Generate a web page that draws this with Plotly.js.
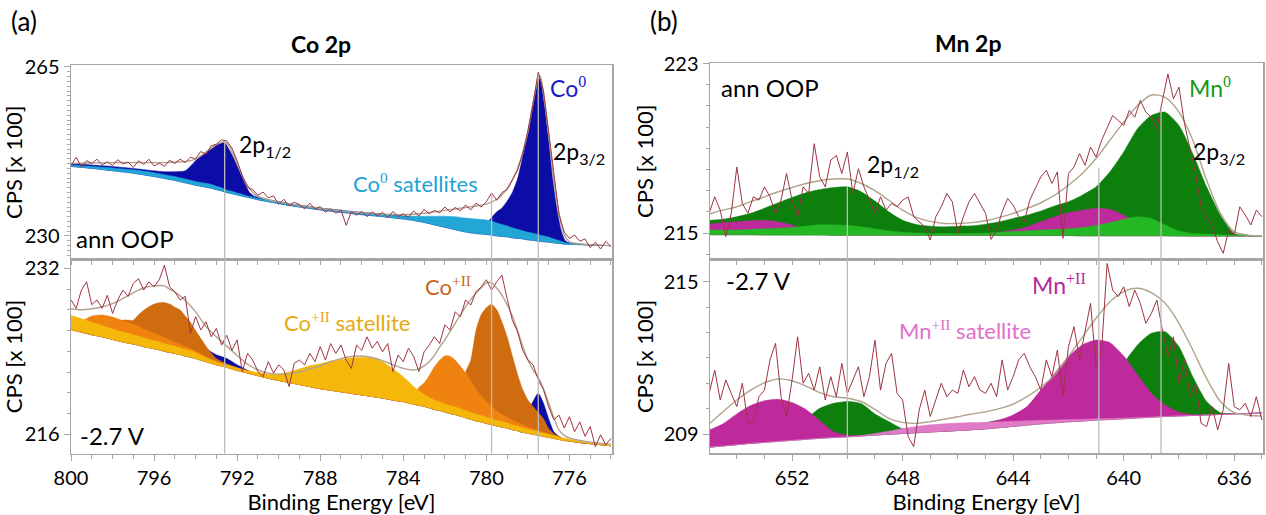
<!DOCTYPE html>
<html><head><meta charset="utf-8">
<script src="https://cdn.plot.ly/plotly-3.0.1.min.js"></script>
<style>body{margin:0;background:#fff}#chart{width:1266px;height:515px}</style>
</head><body><div id="chart"></div>
<script>
// ---------------- Co 2p, ann OOP (top-left) ----------------
const coTopE = [800,799,798,797,796,795.5,795,794.5,794,793.75,793.5,793.25,793,792.8,792.6,792.4,792.2,792,791.8,791.6,791.4,791.2,791,790.5,790,789,788,787,786,785,784,783.5,783,782.5,782,781.5,781,780.5,780,779.75,779.5,779.25,779,778.75,778.5,778.25,778,777.8,777.6,777.5,777.4,777.2,777,776.8,776.6,776.4,776.2,776,775.5,775,774.5,774];
const coTopBg = [244.4,244.0,243.5,243.0,242.3,241.9,241.5,241.0,240.5,240.3,240.1,239.9,239.6,239.4,239.1,238.9,238.7,238.5,238.3,238.1,237.9,237.7,237.5,237.1,236.7,236.0,235.4,234.9,234.4,234.0,233.5,233.2,232.8,232.3,231.8,231.3,230.8,230.5,230.3,230.2,230.0,229.9,229.8,229.6,229.5,229.4,229.2,229.1,229.0,228.9,228.85,228.8,228.7,228.6,228.5,228.4,228.3,228.3,228.2,228.1,228.05,228.0];
const coTopCo0 = [0.6,0.7,0.9,1.0,1.2,1.4,1.8,2.5,5.1,6.3,7.2,8.1,9.2,9.8,10.2,9.1,7.7,6.0,4.3,2.5,1.1,0.6,0.5,0.45,0.4,0.4,0.4,0.45,0.5,0.55,0.65,0.7,0.8,0.9,1.0,1.2,1.4,1.8,2.4,3.6,5.0,5.9,7.4,9.4,12.3,17.0,22.2,27.4,32.0,33.8,33.45,28.2,21.1,13.0,7.0,2.8,0.7,0.3,0.1,0.05,0,0];
const coTopSat = [0.3,0.4,0.6,0.7,0.8,0.8,0.8,0.8,0.8,0.8,0.8,0.8,0.7,0.7,0.6,0.5,0.5,0.4,0.4,0.3,0.3,0.3,0.3,0.3,0.3,0.3,0.3,0.3,0.3,0.4,0.6,0.9,1.3,1.8,2.3,2.7,2.9,3.0,3.0,2.9,2.7,2.5,2.3,2.1,1.9,1.7,1.6,1.5,1.4,1.4,1.3,1.2,1.1,0.9,0.7,0.5,0.3,0.2,0.1,0.1,0,0];
const coTopEnv = [245.0,245.1,245.2,245.2,245.2,245.2,245.3,245.4,245.9,246.6,247.4,248.2,248.9,249.3,249.5,248.7,247.0,245.0,243.0,241.2,239.8,238.8,238.2,237.5,237.0,236.3,235.7,235.2,234.8,234.5,234.4,234.5,234.7,235.0,235.3,235.6,235.9,236.2,236.6,237.0,237.6,238.5,239.8,241.6,244.0,247.3,251.5,256.3,261.0,263.2,263.0,258.0,251.0,243.5,237.0,232.5,229.8,228.8,228.4,228.2,228.1,228.0];
const coTopRaw = [244.6,246.3,244.3,245.6,245.0,245.9,244.7,245.4,244.6,245.8,
244.9,245.3,244.2,245.6,244.8,245.9,244.5,245.1,244.4,245.7,
245.0,245.9,245.2,246.3,246.0,247.5,246.9,248.7,249.0,249.9,
249.7,248.2,245.6,242.4,240.1,239.6,238.4,239.1,237.9,238.3,
236.6,
237.6,236.2,237.0,236.5,235.6,236.8,235.5,236.1,234.9,235.6,
234.7,235.4,232.2,235.0,234.3,235.1,234.0,235.0,234.2,234.9,
233.8,235.1,234.0,234.6,233.9,235.2,234.1,235.5,234.6,235.3,
234.8,236.0,235.0,235.9,235.2,236.4,235.4,236.8,236.0,237.1,
238.9,237.4,239.0,239.6,241.5,243.6,247.0,251.8,257.4,263.9,
260.0,251.5,242.0,234.5,230.8,229.5,230.2,228.9,229.4,227.6,
228.7,227.3,228.9,227.8];

// ---------------- Co 2p, -2.7 V (bottom-left) ----------------
const coBotE = [800,799.5,799,798.5,798,797.5,797,796.75,796.5,796.25,796,795.75,795.5,795.25,795,794.75,794.5,794.25,794,793.5,793,792.5,792,791.5,791,790.5,790,789.5,789,788.5,788,787.5,787,786.5,786,785.5,785,784.5,784,783.5,783.25,783,782.75,782.5,782.25,782,781.75,781.5,781.25,781,780.75,780.5,780.25,780,779.75,779.5,779.25,779,778.75,778.5,778.25,778,777.75,777.5,777.25,777,776.75,776.5,776.25,776,775.5,775,774.5,774];
const coBotBg = [226.1,225.85,225.6,225.4,225.15,224.9,224.7,224.6,224.45,224.35,224.25,224.15,224.0,223.9,223.8,223.7,223.55,223.45,223.3,223.0,222.7,222.45,222.15,221.9,221.65,221.4,221.2,221.0,220.8,220.6,220.4,220.25,220.1,219.95,219.8,219.65,219.5,219.3,219.15,218.9,218.8,218.7,218.55,218.4,218.3,218.15,218.0,217.9,217.75,217.6,217.45,217.3,217.2,217.05,216.95,216.8,216.7,216.6,216.45,216.35,216.2,216.1,216.0,215.9,215.8,215.7,215.6,215.5,215.4,215.35,215.2,215.1,215.0,214.9];
const coBotCo0 = [0,0,0,0,0,0,0,0,0,0,0,0,0,0,0,0,0,0,0.8,1.2,0.96,0.85,0.55,0.27,0.1,0,0,0,0,0,0,0,0,0,0,0,0,0,0,0,0,0,0,0,0,0,0,0,0,0,0,0,0,0,0,0,0,0,0,0,0,2.0,3.18,4.05,3.2,1.8,0.64,0.3,0.1,0,0,0,0,0];
const coBotCoII = [0,0,0,0.3,1.0,2.1,2.3,2.92,3.5,3.95,4.3,4.53,4.7,4.65,4.45,4.3,3.85,3.35,2.7,1.5,0.61,0.35,0.28,0.15,0.05,0,0,0,0,0,0,0,0,0,0,0,0,0,0,0,0,0,0,0,0,0.4,0.6,1.0,2.0,4.4,5.68,8.7,10.32,11.15,11.58,11.2,10.13,8.8,7.13,5.45,4.11,3.2,2.68,2.2,1.7,0.85,0.44,0.3,0.15,0.05,0,0,0,0];
const coBotCoIIb = [0,1.0,1.8,2.1,2.15,2.05,1.9,1.82,1.73,1.62,1.52,1.41,1.31,1.2,1.1,1.0,0.91,0.81,0.73,0.48,0.31,0.2,0.1,0,0,0,0,0,0,0,0,0,0,0,0,0,0,0,0,0.8,1.7,2.25,3.1,4.1,4.85,5.4,5.53,5.25,4.82,4.3,3.68,3.05,2.52,2.1,1.78,1.45,1.23,1.05,0.93,0.8,0.71,0.6,0.53,0.45,0.4,0.35,0.29,0.2,0,0,0,0,0,0];
const coBotSat = [1.35,1.3,1.2,1.1,1.0,0.95,0.9,0.87,0.85,0.82,0.8,0.77,0.75,0.72,0.7,0.67,0.64,0.6,0.57,0.4,0.28,0.25,0.25,0.25,0.3,0.4,0.6,1.0,1.5,2.0,2.4,2.8,3.1,3.4,3.6,3.7,3.5,3.0,2.4,1.7,1.4,1.15,1.0,0.9,0.85,0.8,0.78,0.75,0.72,0.7,0.68,0.65,0.62,0.6,0.58,0.55,0.53,0.5,0.48,0.45,0.43,0.4,0.38,0.35,0.33,0.3,0.27,0.25,0.22,0.2,0.15,0.1,0.05,0];
const coBotEnv = [228.1,228.0,228.1,228.3,228.6,229.1,229.65,229.9,230.1,230.25,230.3,230.35,230.3,230.0,229.7,229.35,228.9,228.4,227.8,226.4,225.4,224.5,223.6,222.75,222.2,221.9,221.8,221.85,222.0,222.3,222.6,223.0,223.3,223.5,223.55,223.4,223.1,222.7,222.35,222.2,222.3,222.6,223.0,223.6,224.4,225.1,225.9,226.7,227.5,228.3,229.0,229.6,230.1,230.6,230.6,230.1,229.4,228.5,227.4,226.0,224.5,223.2,222.2,221.5,220.4,219.0,217.6,216.4,215.9,215.65,215.4,215.25,215.15,215.05];
const coBotRaw = [228.95,228.15,229.9,230.7,228.5,228.95,228.15,229.4,227.65,228.95,
229.9,229.3,230.55,231.0,229.9,230.7,230.2,230.9,232.3,230.2,
229.75,228.95,229.3,225.75,227.35,226.05,226.85,225.4,226.2,224.6,
225.55,224.1,225.1,222.05,223.8,223.15,222.05,221.55,223.0,221.9,
222.7,
222.2,220.6,222.85,223.15,222.7,223.8,223.0,224.45,223.15,224.75,
223.8,224.6,223.15,222.35,224.6,224.1,225.4,224.3,224.95,223.95,
224.75,222.05,223.65,223.0,224.3,223.5,222.05,223.95,224.6,225.4,
224.75,226.55,226.05,227.8,227.35,228.95,228.45,229.75,230.2,230.9,
229.9,230.7,231.35,229.1,227.0,225.9,224.1,223.15,222.7,221.25,
220.3,218.65,217.4,217.85,216.6,217.7,216.25,217.2,215.8,216.75,
214.8,215.95,215.0,215.6];

// ---------------- Mn 2p, ann OOP (top-right) ----------------
const mnE = [655,654.5,654,653.5,653,652.5,652,651.5,651,650.5,650,649.5,649,648.5,648,647.5,647,646.5,646,645.5,645,644.5,644,643.5,643,642.5,642,641.5,641,640.5,640,639.5,639,638.5,638,637.5,637,636.5,636,635.5,635];
const mnTopBg = [214.92,214.92,214.92,214.92,214.91,214.91,214.91,214.91,214.91,214.9,214.9,214.9,214.9,214.9,214.9,214.89,214.89,214.89,214.89,214.89,214.89,214.88,214.88,214.88,214.88,214.88,214.88,214.87,214.87,214.87,214.87,214.87,214.87,214.87,214.86,214.86,214.86,214.86,214.86,214.86,214.86];
const mnTopMn0 = [0.68,0.73,0.85,1.01,1.26,1.52,1.77,1.99,2.14,2.25,2.28,2.05,1.61,1.1,0.7,0.51,0.43,0.4,0.43,0.45,0.53,0.65,0.81,0.96,1.16,1.4,1.6,1.92,2.31,3.02,3.96,5.06,5.68,5.84,5.22,3.89,2.32,0.98,0.12,0.02,0];
const mnTopMnII = [0.5,0.57,0.61,0.66,0.69,0.62,0.46,0.25,0.1,0.03,0,0,0,0,0,0,0,0,0,0,0.05,0.15,0.26,0.41,0.65,0.89,1.08,1.21,1.29,1.25,0.97,0.6,0.3,0.12,0.04,0,0,0,0,0,0];
const mnTopSat = [0.22,0.22,0.22,0.25,0.29,0.32,0.35,0.42,0.48,0.49,0.46,0.4,0.3,0.2,0.14,0.11,0.09,0.09,0.09,0.09,0.11,0.15,0.19,0.22,0.26,0.29,0.32,0.39,0.49,0.62,0.78,0.9,0.82,0.51,0.24,0.12,0.09,0.06,0.03,0.01,0];
const mnTopEnv = [215.9,216.08,216.24,216.48,216.71,216.95,217.15,217.34,217.47,217.55,217.55,217.34,217.0,216.55,216.08,215.74,215.55,215.45,215.45,215.49,215.58,215.74,215.93,216.16,216.43,216.79,217.26,217.81,218.52,219.38,220.24,221.02,221.52,221.41,220.71,219.38,217.5,215.93,215.07,214.9,214.87];
const mnTopRaw = [215.93,216.71,216.08,214.83,215.93,218.12,216.4,215.93,216.71,216.55,
217.18,216.71,215.93,216.55,217.81,216.55,215.77,217.18,216.87,219.22,
217.65,217.18,218.44,218.67,217.81,218.83,216.87,218.04,217.18,216.55,
215.93,216.71,216.08,216.4,216.24,216.55,216.71,215.77,215.53,215.3,
214.67,215.77,216.24,216.87,216.47,214.98,215.77,216.47,216.87,216.4,
215.93,214.7,215.14,216.0,216.63,216.32,215.77,215.53,216.55,217.1,
217.65,217.96,217.34,217.89,214.75,217.81,218.12,218.75,218.2,219.06,
218.59,219.38,220.0,220.55,220.32,220.08,220.79,220.47,221.26,220.71,
220.47,219.93,221.26,222.51,221.34,221.89,220.16,219.06,217.81,216.24,
215.77,215.3,214.59,214.04,215.14,214.9,216.24,215.85,215.38,216.08,
215.77];

// ---------------- Mn 2p, -2.7 V (bottom-right) ----------------
const mnBotBg = [208.48,208.53,208.58,208.63,208.67,208.71,208.75,208.79,208.83,208.86,208.89,208.92,208.96,208.99,209.02,209.05,209.08,209.11,209.14,209.17,209.2,209.25,209.3,209.35,209.4,209.44,209.48,209.51,209.55,209.57,209.6,209.63,209.66,209.69,209.71,209.73,209.75,209.77,209.79,209.81,209.83];
const mnBotMn0 = [0,0,0,0.02,0.08,0.2,0.45,0.8,1.18,1.35,1.39,1.28,0.83,0.5,0.18,0.08,0.03,0,0,0.15,0.24,0.3,0.33,0.38,0.45,0.55,0.7,0.9,1.2,1.6,2.2,2.88,3.31,3.34,2.73,1.53,0.53,0.07,0.02,0,0];
const mnBotMnII = [0.67,0.87,1.21,1.49,1.64,1.66,1.49,1.18,0.7,0.23,0.06,0.02,0,0,0,0,0,0,0,0,0.22,0.3,0.45,0.73,1.33,1.95,2.57,3.0,3.15,3.03,2.47,1.7,0.95,0.45,0.15,0.04,0,0,0,0,0];
const mnBotSat = [0,0,0,0,0,0,0,0,0,0,0,0.02,0.06,0.12,0.2,0.25,0.28,0.29,0.29,0.28,0.26,0.23,0.2,0.17,0.14,0.11,0.09,0.07,0.05,0.04,0.03,0.02,0.01,0,0,0,0,0,0,0,0];
const mnBotEnv = [209.4,209.88,210.34,210.73,211.02,211.17,211.1,210.89,210.63,210.47,210.41,210.28,209.97,209.62,209.46,209.42,209.49,209.58,209.68,209.79,209.87,210.0,210.18,210.47,210.84,211.33,212.05,212.81,213.56,214.21,214.61,214.74,214.57,214.15,213.36,212.31,211.19,210.28,209.84,209.74,209.71];
const mnBotRaw = [210.6,211.52,210.34,211.13,210.6,210.08,211.0,209.42,209.49,210.47,
210.73,211.92,212.57,210.47,209.69,211.13,212.83,211.0,211.39,210.73,
211.65,210.34,211.26,210.47,211.78,210.6,211.13,211.65,210.47,211.26,
212.7,210.73,211.78,212.18,210.6,210.34,208.9,208.5,209.95,210.73,
209.69,210.34,211.0,210.47,210.73,210.6,211.52,210.86,211.26,210.73,
210.6,211.0,210.47,211.92,210.73,211.26,211.92,212.18,211.65,211.26,
210.73,211.92,211.26,212.31,210.47,212.44,213.23,211.92,213.1,214.15,
211.65,212.31,215.72,214.67,214.41,214.8,214.02,214.67,214.15,213.36,
213.75,214.28,213.1,212.05,212.83,211.0,211.92,210.47,211.0,209.42,
209.29,210.08,209.16,209.95,211.78,210.08,209.95,210.21,209.69,210.47,
209.55];

// peak-position marker lines: energy and the value where the line starts in the upper panel
const coMarkE = [792.6, 779.75, 777.5];
const coMarkTop = [249.5, 239.0, 263.3];
const mnMarkE = [650.0, 640.9, 638.65];
const mnMarkTop = [217.2, 218.1, 220.8];

// raw spectra sampling grids (instrument step)
function energyGrid(start, stop, step) {
  const out = []; const n = Math.round((start - stop) / step);
  for (let i = 0; i <= n; i++) out.push(+(start - i * step).toFixed(2));
  return out;
}
const coRawE = energyGrid(800, 774, 0.25);
const mnRawE = energyGrid(655, 635, 0.2);

// ---------------- build traces ----------------
const C = {
  co0: '#0c0ca6', coSat: '#22a6d6', coII: '#d06c10', coIIb: '#f0830f', coIISat: '#f4b70a',
  mn0: '#0d7f0d', mnII: '#be2a9b', mnSat0: '#25b825', mnIISat: '#e07bc8',
  env: '#b0a48c', raw: '#9e3442'
};
function comp(E, bg, h, color, xa, ya) {
  const top = E.map((_, i) => bg[i] + h[i]);
  return {
    type: 'scatter', mode: 'lines', x: E.concat(E.slice().reverse()),
    y: top.concat(bg.slice().reverse()), fill: 'toself', fillcolor: color,
    line: {color: color, width: 0.5, shape: 'spline', smoothing: 0.6},
    xaxis: xa, yaxis: ya, hoverinfo: 'skip'
  };
}
function line(x, y, color, w, xa, ya, shape) {
  return {type: 'scatter', mode: 'lines', x: x, y: y, line: {color: color, width: w, shape: shape || 'linear', smoothing: 0.8},
    xaxis: xa, yaxis: ya, hoverinfo: 'skip'};
}
const traces = [
  comp(coTopE, coTopBg, coTopCo0, C.co0, 'x', 'y'),
  comp(coTopE, coTopBg, coTopSat, C.coSat, 'x', 'y'),
  line(coTopE, coTopEnv, C.env, 1.4, 'x', 'y', 'spline'),
  line(coRawE, coTopRaw, C.raw, 1, 'x', 'y'),

  comp(coBotE, coBotBg, coBotCo0, C.co0, 'x2', 'y2'),
  comp(coBotE, coBotBg, coBotCoII, C.coII, 'x2', 'y2'),
  comp(coBotE, coBotBg, coBotCoIIb, C.coIIb, 'x2', 'y2'),
  comp(coBotE, coBotBg, coBotSat, C.coIISat, 'x2', 'y2'),
  line(coBotE, coBotEnv, C.env, 1.4, 'x2', 'y2', 'spline'),
  line(coRawE, coBotRaw, C.raw, 1, 'x2', 'y2'),

  comp(mnE, mnTopBg, mnTopMn0, C.mn0, 'x3', 'y3'),
  comp(mnE, mnTopBg, mnTopMnII, C.mnII, 'x3', 'y3'),
  comp(mnE, mnTopBg, mnTopSat, C.mnSat0, 'x3', 'y3'),
  line(mnE, mnTopEnv, C.env, 1.4, 'x3', 'y3', 'spline'),
  line(mnRawE, mnTopRaw, C.raw, 1, 'x3', 'y3'),

  comp(mnE, mnBotBg, mnBotMn0, C.mn0, 'x4', 'y4'),
  comp(mnE, mnBotBg, mnBotMnII, C.mnII, 'x4', 'y4'),
  comp(mnE, mnBotBg, mnBotSat, C.mnIISat, 'x4', 'y4'),
  line(mnE, mnBotEnv, C.env, 1.4, 'x4', 'y4', 'spline'),
  line(mnRawE, mnBotRaw, C.raw, 1, 'x4', 'y4')
];

// ---------------- layout ----------------
const W = 1266, H = 515;
const px = X => X / W, py = Y => 1 - Y / H;
const AX = '#a6a6a6';
const base = {showline: true, mirror: true, linecolor: AX, linewidth: 1.5, showgrid: false, zeroline: false,
  tickcolor: AX, ticks: 'outside', tickfont: {size: 20, color: '#000'}};
const minorY = d => ({dtick: d, ticks: 'outside', ticklen: 3, tickcolor: AX});
const yTitle = {text: 'CPS [x 100]', font: {size: 22, color: '#000'}, standoff: 4};
const xTitle = {text: 'Binding Energy [eV]', font: {size: 22, color: '#000'}, standoff: 7};
const leftDom = [px(71), px(612)], rightDom = [px(710), px(1263)];
const coRange = [800, 773.95], mnRange = [654.97, 634.96];
const coTopRange = [225.13, 265.41], coBotRange = [214.15, 232.85];
const mnTopRange = [213.75, 223.03], mnBotRange = [208.24, 215.875];

const shapes = [];
coMarkE.forEach((e, i) => {
  shapes.push({type: 'line', xref: 'x', yref: 'y', x0: e, x1: e, y0: coTopRange[0], y1: coMarkTop[i], line: {color: '#bcbcbc', width: 1.3}});
  shapes.push({type: 'line', xref: 'x2', yref: 'y2 domain', x0: e, x1: e, y0: 0, y1: 1, line: {color: '#bcbcbc', width: 1.3}});
});
mnMarkE.forEach((e, i) => {
  shapes.push({type: 'line', xref: 'x3', yref: 'y3', x0: e, x1: e, y0: mnTopRange[0], y1: mnMarkTop[i], line: {color: '#bcbcbc', width: 1.3}});
  shapes.push({type: 'line', xref: 'x4', yref: 'y4 domain', x0: e, x1: e, y0: 0, y1: 1, line: {color: '#bcbcbc', width: 1.3}});
});

const SER = "font-family:'Liberation Serif',serif";
function ann(text, X, Y, size, color, extra) {
  return Object.assign({text: text, x: px(X), y: py(Y), xref: 'paper', yref: 'paper', showarrow: false,
    xanchor: 'center', yanchor: 'middle', font: {size: size, color: color || '#000'}}, extra || {});
}
const annotations = [
  ann('(a)', 24, 21, 26),
  ann('(b)', 664, 21, 26),
  ann('<b>Co 2p</b>', 321, 44, 23),
  ann('<b>Mn 2p</b>', 968, 43, 23),
  ann('2p<sub>1/2</sub>', 265, 145, 23),
  ann('Co<sup><span style="' + SER + '">0</span></sup>', 568, 88, 23, '#1a1acc'),
  ann('2p<sub>3/2</sub>', 579, 152, 23),
  ann('Co<sup><span style="' + SER + '">0</span></sup> satellites', 415, 183, 22, '#1fa3d6'),
  ann('ann OOP', 125, 238, 24),
  ann('-2.7 V', 112, 435, 24),
  ann('Co<sup><span style="' + SER + '">+II</span></sup>', 448, 286, 22, '#c8651a'),
  ann('Co<sup><span style="' + SER + '">+II</span></sup> satellite', 347, 322, 22, '#e6aa10'),
  ann('ann OOP', 770, 88, 24),
  ann('2p<sub>1/2</sub>', 893, 165, 23),
  ann('Mn<sup><span style="' + SER + '">0</span></sup>', 1210, 88, 23, '#159a15'),
  ann('2p<sub>3/2</sub>', 1219, 152, 23),
  ann('-2.7 V', 758, 280, 24),
  ann('Mn<sup><span style="' + SER + '">+II</span></sup>', 1059, 284, 23, '#b52a99'),
  ann('Mn<sup><span style="' + SER + '">+II</span></sup> satellite', 965, 330, 22, '#e070c8')
];

const layout = {
  width: W, height: H, margin: {l: 0, r: 0, t: 0, b: 0},
  paper_bgcolor: '#fff', plot_bgcolor: '#fff', showlegend: false,
  font: {family: 'Lato, "Open Sans", sans-serif', size: 20, color: '#000'},
  xaxis: Object.assign({}, base, {domain: leftDom, range: coRange, anchor: 'y', showticklabels: false, dtick: 1, tick0: 800, ticklen: 4}),
  yaxis: Object.assign({}, base, {domain: [py(259.5), py(65)], range: coTopRange, anchor: 'x', tick0: 230, dtick: 35, ticklen: 6, minor: minorY(1), title: yTitle}),
  xaxis2: Object.assign({}, base, {domain: leftDom, range: coRange, anchor: 'y2', tick0: 776, dtick: 4, ticklen: 6, minor: {dtick: 1, ticks: 'outside', ticklen: 4, tickcolor: AX}, title: xTitle}),
  yaxis2: Object.assign({}, base, {domain: [py(453.5), py(259.5)], range: coBotRange, anchor: 'x2', tick0: 216, dtick: 16, ticklen: 6, minor: minorY(2), title: yTitle}),
  xaxis3: Object.assign({}, base, {domain: rightDom, range: mnRange, anchor: 'y3', showticklabels: false, dtick: 1, tick0: 636, ticklen: 4}),
  yaxis3: Object.assign({}, base, {domain: [py(259.5), py(63)], range: mnTopRange, anchor: 'x3', tick0: 215, dtick: 8, ticklen: 6, minor: minorY(1), title: yTitle}),
  xaxis4: Object.assign({}, base, {domain: rightDom, range: mnRange, anchor: 'y4', tick0: 636, dtick: 4, ticklen: 6, minor: {dtick: 1, ticks: 'outside', ticklen: 4, tickcolor: AX}, title: xTitle}),
  yaxis4: Object.assign({}, base, {domain: [py(453.3), py(259.5)], range: mnBotRange, anchor: 'x4', tick0: 209, dtick: 6, ticklen: 6, minor: minorY(1), title: yTitle}),
  shapes: shapes,
  annotations: annotations
};

Plotly.newPlot('chart', traces, layout, {displayModeBar: false, staticPlot: true});
</script></body></html>
